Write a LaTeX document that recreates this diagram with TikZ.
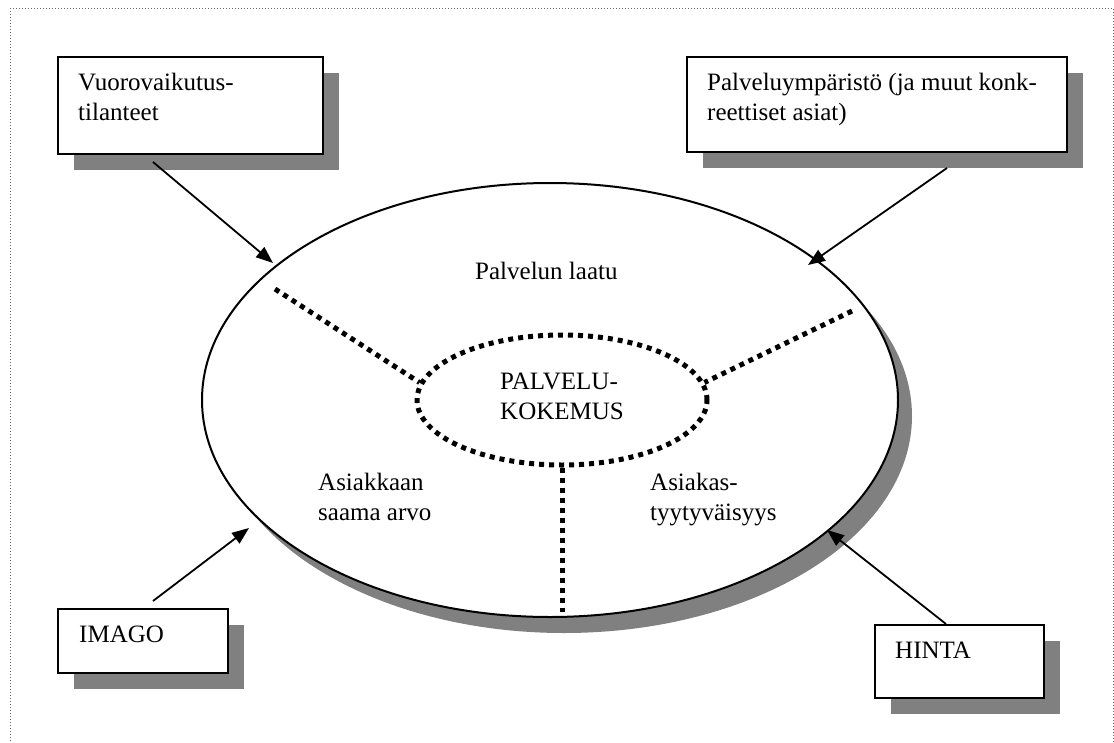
\documentclass[tikz,border=0pt]{standalone}
\usepackage{fontspec}
\setmainfont{Liberation Serif}
\usetikzlibrary{shapes.geometric,shadows,arrows.meta,calc}
\begin{document}
\begin{tikzpicture}[x=1pt,y=-1pt,
  txt/.style={inner sep=0pt, anchor=base west, align=left, font=\fontsize{25}{30}\selectfont},
  shade16/.style={drop shadow={shadow xshift=16pt, shadow yshift=-16pt, fill=black!50, opacity=1}},
  infobox/.style={draw, line width=2pt, fill=white, anchor=north west, inner sep=0pt, shade16},
  dots/.style={line width=5pt, dash pattern=on 5pt off 5pt},
  feed/.style={line width=1.8pt, -{Triangle[length=17pt,width=13pt]}}]
\useasboundingbox (0,0) rectangle (1114,742);
% page frame
\draw[black!60, line width=1pt, dotted] (10,8) rectangle (1113,770);

% the service experience ellipse and its core
\node[ellipse, draw, line width=2pt, fill=white, inner sep=0pt,
      minimum width=696pt, minimum height=434pt,
      drop shadow={shadow xshift=14pt, shadow yshift=-16pt, fill=black!50, opacity=1}]
      (outer) at (550,400) {};
\node[ellipse, draw, dots, inner sep=0pt, minimum width=290pt, minimum height=130pt]
      (core) at (562,400) {};

% spokes dividing the ellipse
\coordinate (spokeL) at (275,289);
\coordinate (spokeR) at (852,311);
\coordinate (spokeB) at (562,612);
\draw[dots] (spokeL) -- (core.173);
\draw[dots] (spokeR) -- (core.7);
\draw[dots] (core.south) -- (core.south |- spokeB);

% texts inside the ellipse (two-line labels are placed by their last baseline)
\node[txt] (core text) at (500,419) {PALVELU-\\KOKEMUS};
\node[txt] (quality) at (475,279) {Palvelun laatu};
\node[txt] (value) at (318,520) {Asiakkaan\\saama arvo};
\node[txt] (satisfaction) at (650,520) {Asiakas-\\tyytyväisyys};

% factor boxes
\node[infobox, minimum width=265pt, minimum height=97pt] (vuoro) at (57,56) {};
\node[txt] (vuoro text) at ($(vuoro.north west)+(21,64)$) {Vuorovaikutus-\\tilanteet};

\node[infobox, minimum width=380pt, minimum height=95pt] (env) at (686,56) {};
\node[txt] (env text) at ($(env.north west)+(21,64)$) {Palveluympäristö (ja muut konk-\\reettiset asiat)};

\node[infobox, minimum width=170pt, minimum height=64pt] (imago) at (57,608) {};
\node[txt] (imago text) at ($(imago.north west)+(22,34)$) {IMAGO};

\node[infobox, minimum width=169pt, minimum height=73pt] (price) at (874,624) {};
\node[txt] (price text) at ($(price.north west)+(21,34)$) {HINTA};

% influences pointing at the ellipse
\coordinate (fromVuoro) at (153,162);
\coordinate (hitVuoro) at (273,263);
\coordinate (fromEnv) at (947,168);
\coordinate (hitEnv) at (808,265);
\coordinate (fromImago) at (153,601);
\coordinate (hitImago) at (249,528);
\coordinate (fromPrice) at (946,624);
\coordinate (hitPrice) at (827,530);
\draw[feed] (fromVuoro) -- (hitVuoro);
\draw[feed] (fromEnv) -- (hitEnv);
\draw[feed] (fromImago) -- (hitImago);
\draw[feed] (fromPrice) -- (hitPrice);
\end{tikzpicture}
\end{document}
